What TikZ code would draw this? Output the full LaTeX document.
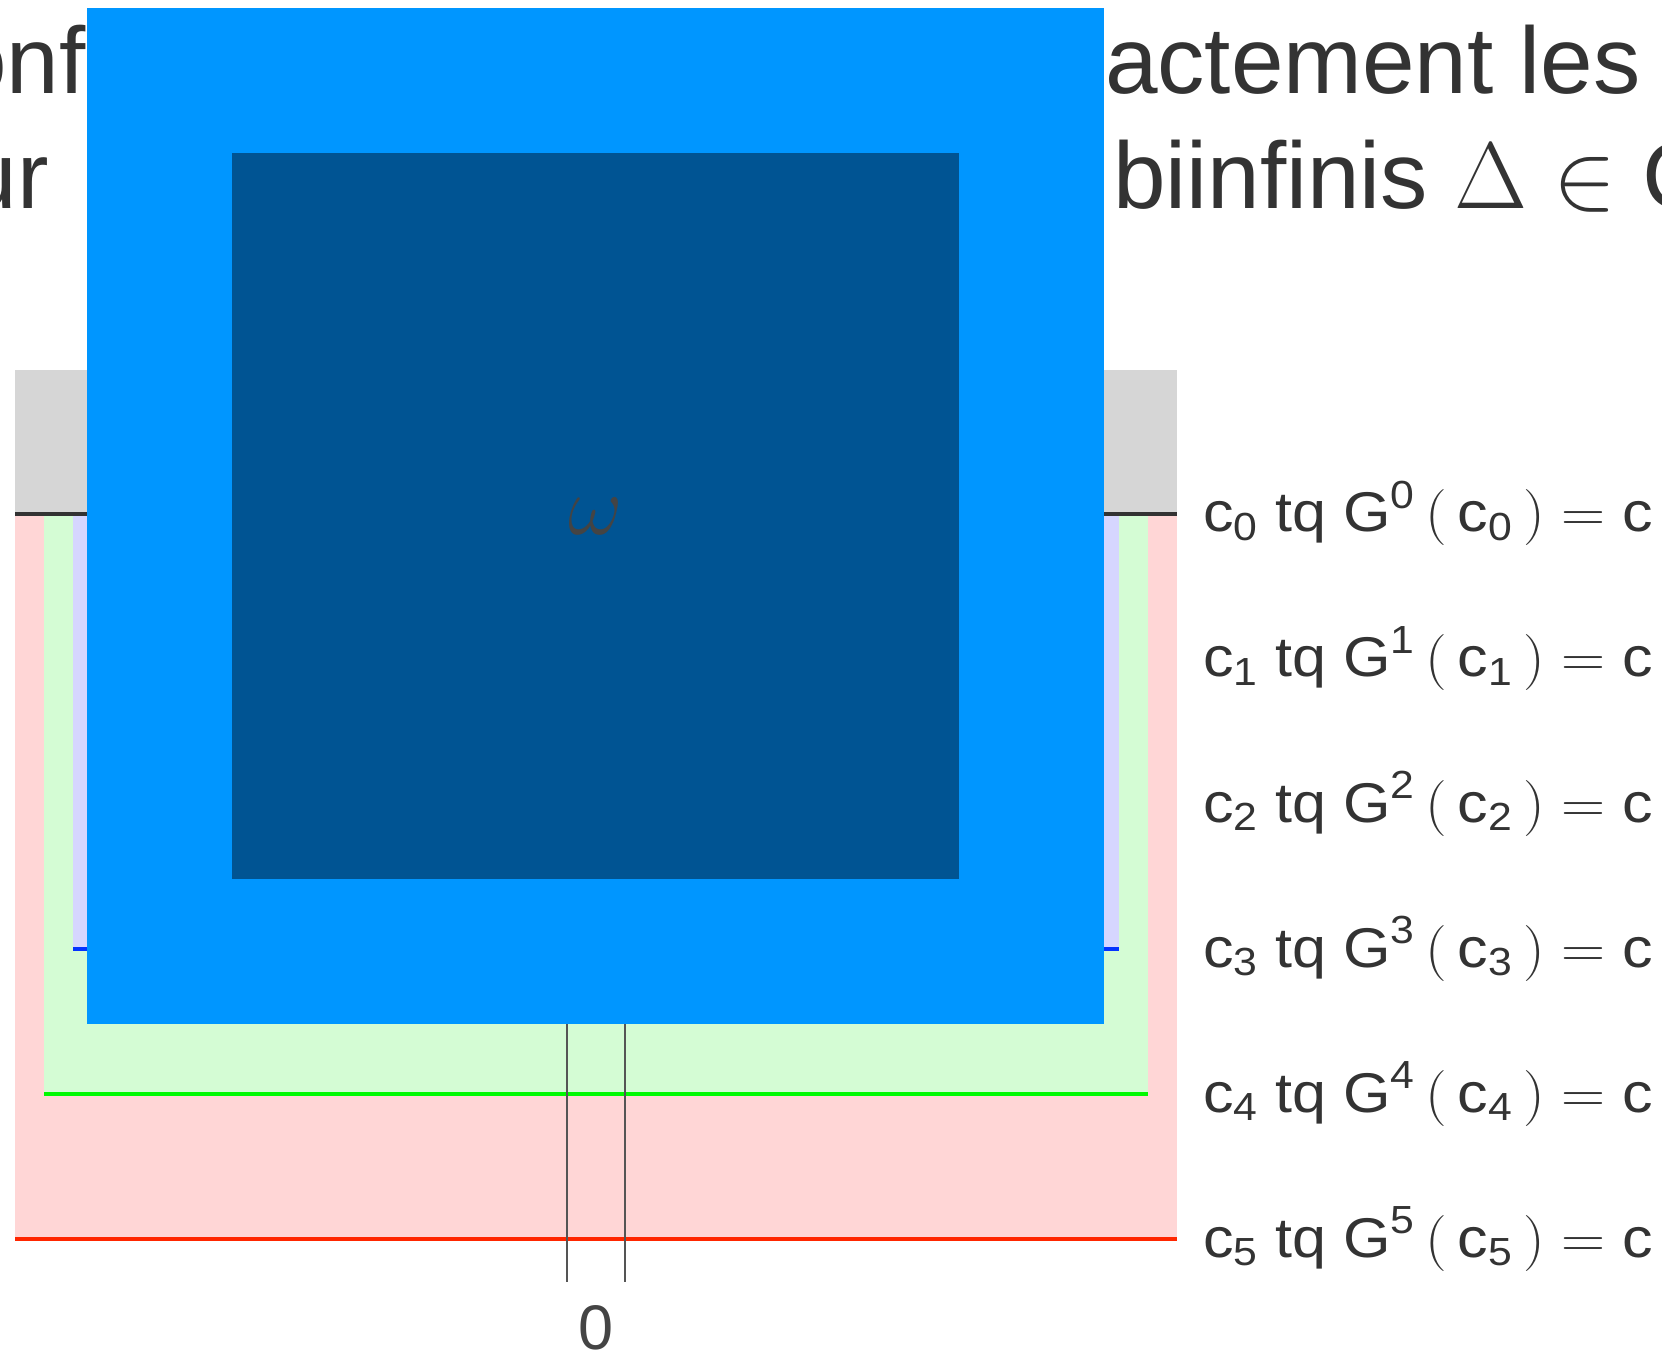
\RequirePackage{fix-cm}
\documentclass[tikz,border=0pt]{standalone}
\usepackage{amsmath}
\usepackage[no-math]{fontspec}
\setmainfont{Liberation Sans}
\definecolor{txtgray}{RGB}{51,51,51}
\definecolor{omgray}{RGB}{68,68,68}
\definecolor{graybg}{RGB}{214,214,214}
\definecolor{redfill}{RGB}{255,214,214}
\definecolor{greenfill}{RGB}{212,252,212}
\definecolor{lavfill}{RGB}{214,214,255}
\definecolor{redline}{RGB}{255,38,0}
\definecolor{greenline}{RGB}{0,249,0}
\definecolor{blueline}{RGB}{4,51,255}
\definecolor{aqua}{RGB}{0,150,255}
\definecolor{ocean}{RGB}{0,84,147}
\definecolor{vline}{RGB}{85,85,85}
\newcommand{\toptxt}{\fontsize{47.25}{56}\selectfont}
\newcommand{\labtxt}{\fontsize{28}{32}\selectfont}
\newcommand{\lablevel}[1]{$\text{c}_{\text{#1}}$ tq $\text{G}^{\text{#1}}\,(\,\text{c}_{\text{#1}}\,)=\text{c}$}
\begin{document}
\begin{tikzpicture}[x=0.5pt,y=-0.5pt,
  txt/.style={text=txtgray, inner sep=0pt, outer sep=0pt},
  hline/.style={line width=2pt},
  lab/.style={txt, anchor=base west, font=\labtxt, xscale=1.09}]
\useasboundingbox (0,0) rectangle (1662,1353);
% top text (partly hidden by the squares)
\node[txt, anchor=base west, font=\toptxt] (t1l) at (-46,94) {onf};
\node[txt, anchor=base west, font=\toptxt] (t1r) at (1105,94) {actement les};
\node[txt, anchor=base west, font=\toptxt] (t2l) at (-35,209) {ur};
\node[txt, anchor=base west, font=\toptxt] (t2r) at (1113,209) {biinfinis $\Delta\in$ C};
% nested bands
\fill[graybg] (15,370) rectangle (1177,514);
\fill[redfill] (15,514) rectangle (1177,1239);
\fill[greenfill] (44,514) rectangle (1148,1094);
\fill[lavfill] (73,514) rectangle (1119,949);
\draw[hline, txtgray] (15,514) -- (1177,514);
\draw[hline, blueline] (73,949) -- (1119,949);
\draw[hline, greenline] (44,1094) -- (1148,1094);
\draw[hline, redline] (15,1239) -- (1177,1239);
% vertical lines
\coordinate (va) at (567,514);
\coordinate (vb) at (625,514);
\coordinate (va2) at (567,1282);
\coordinate (vb2) at (625,1282);
\draw[vline, line width=1.1pt] (va) -- (va2);
\draw[vline, line width=1.1pt] (vb) -- (vb2);
\node[txt, text=omgray, font=\fontsize{31.5}{36}\selectfont, anchor=base] (zero) at (596,1349) {0};
% squares
\fill[aqua] (87,8) rectangle (1104,1024);
\fill[ocean] (232,153) rectangle (959,879);
\node[txt, text=omgray, font=\fontsize{42}{46}\selectfont] (om) at (596,516) {$\omega$};
% labels
\node[lab] (l0) at (1203,532) {\lablevel{0}};
\node[lab] (l1) at (1203,677) {\lablevel{1}};
\node[lab] (l2) at (1203,822) {\lablevel{2}};
\node[lab] (l3) at (1203,967) {\lablevel{3}};
\node[lab] (l4) at (1203,1112) {\lablevel{4}};
\node[lab] (l5) at (1203,1257) {\lablevel{5}};
\end{tikzpicture}
\end{document}
